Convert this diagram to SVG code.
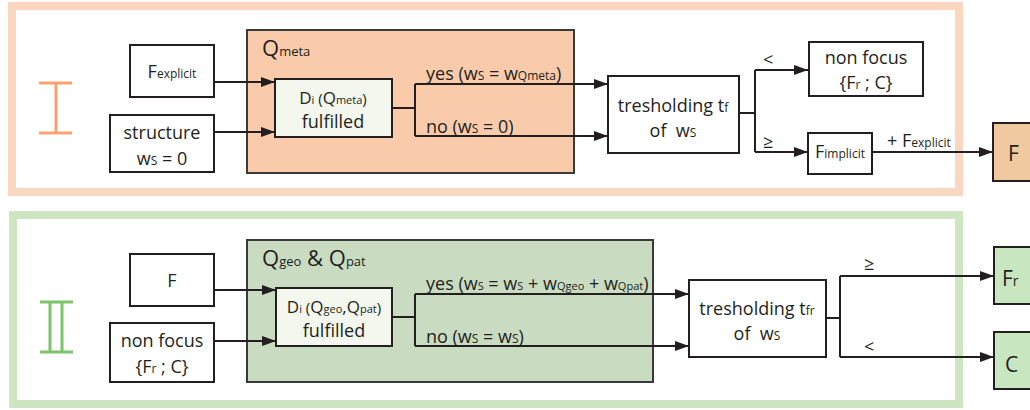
<svg xmlns="http://www.w3.org/2000/svg" width="1030" height="410" viewBox="0 0 1030 410">
<defs>
<marker id="arr" viewBox="0 0 14 10" refX="14" refY="5" markerWidth="14" markerHeight="10" markerUnits="userSpaceOnUse" orient="auto">
<path d="M0,0 L14,5 L0,10 z" fill="#231f20"/>
</marker>
<style>
text{font-family:"Open Sans","Liberation Sans",sans-serif;fill:#231f20;font-size:18px}
.box{fill:#fff;stroke:#231f20;stroke-width:2}
.inner{fill:#f3f7ee;stroke:#231f20;stroke-width:2}
.c{stroke:#231f20;stroke-width:2;fill:none}
.a{marker-end:url(#arr)}
.s{font-size:12px}
.xs{font-size:11px}
.m{font-size:15px}
.mid{text-anchor:middle}
</style>
</defs>
<rect width="1030" height="410" fill="#fff"/>

<g id="frame-I">
<rect x="12" y="6" width="947" height="186" fill="none" stroke="#fbd6c1" stroke-width="8"/>
<path d="M39,83 H72 M39,133 H72 M56,83 V133" stroke="#f5a36f" stroke-width="3" fill="none"/>
</g>
<g id="frame-II">
<rect x="13" y="215" width="946" height="189" fill="none" stroke="#cde5c0" stroke-width="8"/>
<path d="M40,302 H73 M40,352 H73 M50,302 V352 M62,302 V352" stroke="#7cc36a" stroke-width="3" fill="none"/>
</g>

<g id="qmeta">
<rect x="247" y="30" width="327" height="143" fill="#f9cbab" stroke="#3a3a3a" stroke-width="2"/>
<text x="262" y="56" style="font-size:22px">Q<tspan style="font-size:13px">meta</tspan></text>
</g>
<g id="qgeo">
<rect x="247" y="240" width="406" height="142" fill="#c9dbc0" stroke="#3a3a3a" stroke-width="2"/>
<text x="262" y="266" style="font-size:22px">Q<tspan style="font-size:13px">geo</tspan> &amp; Q<tspan style="font-size:13px">pat</tspan></text>
</g>

<g id="fexplicit">
<rect class="box" x="130" y="45" width="84" height="52"/>
<text class="mid" x="172" y="78">F<tspan class="s">explicit</tspan></text>
</g>
<g id="structure">
<rect class="box" x="110" y="115" width="104" height="57"/>
<text class="mid" x="162" y="139">structure</text>
<text class="mid" x="162" y="165">w<tspan class="s">S</tspan> = 0</text>
</g>
<g id="di-meta">
<rect class="inner" x="275" y="79" width="117" height="58"/>
<text class="mid" x="333" y="104" style="font-size:17px">D<tspan class="xs">i</tspan><tspan class="m"> (</tspan>Q<tspan class="xs">meta</tspan><tspan class="m">)</tspan></text>
<text class="mid" x="333" y="128">fulfilled</text>
</g>
<g id="thresh-f">
<rect class="box" x="608" y="76" width="131" height="77"/>
<text class="mid" x="673" y="112">tresholding t<tspan class="s">f</tspan></text>
<text class="mid" x="673" y="137">of&#160; w<tspan class="s">S</tspan></text>
</g>
<g id="nonfocus-top">
<rect class="box" x="809" y="42" width="114" height="54"/>
<text class="mid" x="866" y="64">non focus</text>
<text class="mid" x="866" y="89">{F<tspan class="s">r</tspan> ; C}</text>
</g>
<g id="fimplicit">
<rect class="box" x="808" y="133" width="64" height="41"/>
<text class="mid" x="840" y="158">F<tspan class="s">implicit</tspan></text>
</g>
<g id="f-out">
<rect x="993" y="123" width="45" height="58" fill="#f0c9a0" stroke="#231f20" stroke-width="2"/>
<text x="1008" y="161" style="font-size:21px">F</text>
</g>

<g id="f-in">
<rect class="box" x="130" y="254" width="84" height="52"/>
<text class="mid" x="172" y="287">F</text>
</g>
<g id="nonfocus-in">
<rect class="box" x="110" y="323" width="104" height="59"/>
<text class="mid" x="162" y="347">non focus</text>
<text class="mid" x="162" y="373">{F<tspan class="s">r</tspan> ; C}</text>
</g>
<g id="di-geo">
<rect class="inner" x="276" y="288" width="116" height="58"/>
<text class="mid" x="334" y="313" style="font-size:17px">D<tspan class="xs">i</tspan><tspan class="m"> (</tspan>Q<tspan class="xs">geo</tspan>,Q<tspan class="xs">pat</tspan><tspan class="m">)</tspan></text>
<text class="mid" x="334" y="337">fulfilled</text>
</g>
<g id="thresh-fr">
<rect class="box" x="689" y="280" width="137" height="77"/>
<text class="mid" x="757" y="315">tresholding t<tspan class="s">fr</tspan></text>
<text class="mid" x="757" y="340">of&#160; w<tspan class="s">S</tspan></text>
</g>
<g id="fr-out">
<rect x="994" y="247" width="45" height="57" fill="#c8e6c0" stroke="#231f20" stroke-width="2"/>
<text x="1002" y="286" style="font-size:21px">F<tspan style="font-size:14px">r</tspan></text>
</g>
<g id="c-out">
<rect x="994" y="332" width="45" height="57" fill="#c8e6c0" stroke="#231f20" stroke-width="2"/>
<text x="1005" y="372" style="font-size:21px">C</text>
</g>

<g id="connectors">
<path class="c a" d="M214,82 H275"/>
<path class="c a" d="M214,132 H275"/>
<path class="c" d="M392,108 H415 M415,84 V136"/>
<path class="c a" d="M415,84 H608"/>
<path class="c a" d="M415,136 H608"/>
<path class="c" d="M739,113 H755 M755,70 V152"/>
<path class="c a" d="M755,70 H808"/>
<path class="c a" d="M755,152 H808"/>
<path class="c a" d="M872,152 H993"/>

<path class="c a" d="M214,290 H276"/>
<path class="c a" d="M214,341 H276"/>
<path class="c" d="M392,317 H415 M415,294 V346"/>
<path class="c a" d="M415,294 H689"/>
<path class="c a" d="M415,346 H689"/>
<path class="c" d="M826,318 H840 M840,276 V357"/>
<path class="c a" d="M840,276 H994"/>
<path class="c a" d="M840,357 H994"/>

<text x="426" y="80">yes (w<tspan class="s">S</tspan> = w<tspan class="s">Qmeta</tspan>)</text>
<text x="426" y="133">no (w<tspan class="s">S</tspan> = 0)</text>
<text x="763" y="66">&lt;</text>
<text x="763" y="148">≥</text>
<text x="887" y="147">+ F<tspan class="s">explicit</tspan></text>
<text x="426" y="290">yes (w<tspan class="xs">S</tspan> = w<tspan class="xs">S</tspan> + w<tspan class="xs">Qgeo</tspan> + w<tspan class="xs">Qpat</tspan>)</text>
<text x="426" y="343">no (w<tspan class="s">S</tspan> = w<tspan class="s">S</tspan>)</text>
<text x="864" y="270">≥</text>
<text x="864" y="353">&lt;</text>
</g>
</svg>
